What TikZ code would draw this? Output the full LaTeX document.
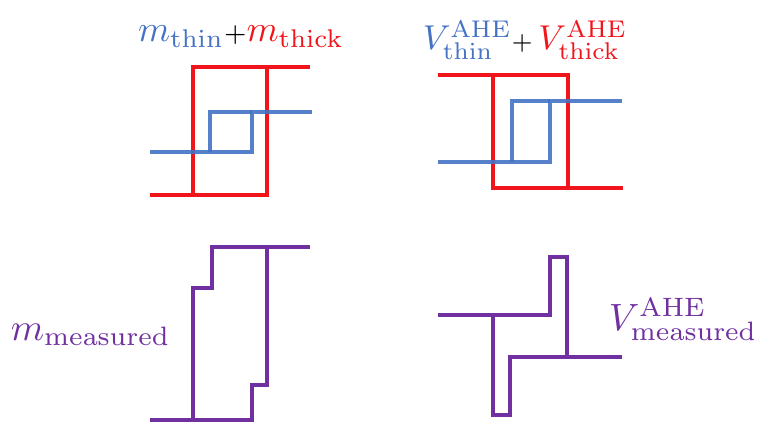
\documentclass[tikz,border=0pt]{standalone}
\usepackage{xcolor}
\definecolor{cblue}{HTML}{4472C4}
\definecolor{cred}{HTML}{F0141B}
\definecolor{cpurple}{HTML}{7030A0}
\begin{document}
\begin{tikzpicture}[x=1pt,y=-1pt,
  thickline/.style={cred,line width=4.7pt,line join=miter},
  thinline/.style={cblue,line width=4.2pt,line join=miter,opacity=0.9},
  measline/.style={cpurple,line width=4.5pt,line join=miter},
  lab/.style={inner sep=0pt,anchor=base}]
\useasboundingbox (0,0) rectangle (763,425);
% panel 1: m
\draw[thickline] (150,195) -- (267,195) -- (267,67) -- (310,67);
\draw[thickline] (193,195) -- (193,67) -- (267,67);
\draw[thinline] (150,152) -- (252,152) -- (252,112) -- (312,112);
\draw[thinline] (210,152) -- (210,112) -- (252,112);
\node[lab,scale=3.66] (l1) at (241,42) {$\textcolor{cblue}{m_{\mathrm{thin}}}{\scriptstyle+}\textcolor{cred}{m_{\mathrm{thick}}}$};
% panel 2: V AHE
\draw[thickline] (438,75) -- (568,75) -- (568,188) -- (623,188);
\draw[thickline] (493,75) -- (493,188) -- (568,188);
\draw[thinline] (438,162) -- (550,162) -- (550,101) -- (622,101);
\draw[thinline] (512,162) -- (512,101) -- (550,101);
\node[lab,scale=3.45] (l2) at (525,50) {$\textcolor{cblue}{V^{\mathrm{AHE}}_{\mathrm{thin}}}{\scriptstyle+}\,\textcolor{cred}{V^{\mathrm{AHE}}_{\mathrm{thick}}}$};
% panel 3: m measured
\draw[measline] (150,420) -- (252,420) -- (252,385) -- (267,385) -- (267,247) -- (310,247);
\draw[measline] (193,420) -- (193,288) -- (212,288) -- (212,247) -- (267,247);
\node[lab,scale=3.8,anchor=base west] (l3) at (10,340) {$\textcolor{cpurple}{m_{\mathrm{measured}}}$};
% panel 4: V measured
\draw[measline] (438,315) -- (550,315) -- (550,257) -- (567,257) -- (567,357) -- (622,357);
\draw[measline] (493,315) -- (493,415) -- (510,415) -- (510,357) -- (567,357);
\node[lab,scale=3.8,anchor=base west] (l4) at (608,330) {$\textcolor{cpurple}{V^{\mathrm{AHE}}_{\mathrm{measured}}}$};
\end{tikzpicture}
\end{document}
